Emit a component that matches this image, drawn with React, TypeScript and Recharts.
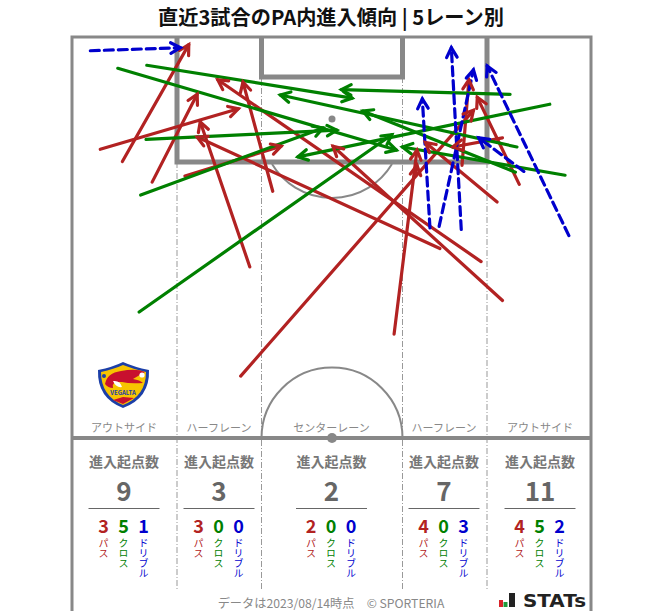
import { LineChart, Line, XAxis, YAxis } from 'recharts';

const FONT = '"Noto Sans CJK JP", "Noto Sans", sans-serif';
const RED = '#b22222';
const GREEN = '#008000';
const BLUE = '#0000cd';
const GRAY = '#888888';

// arrows as [fromX, fromY, toX, toY] in metres, x from left touchline, y from goal line
const passArrows = [
  [6.6, 16.3, 15.3, 1.0],
  [10.5, 19.0, 16.4, 7.5],
  [3.7, 14.7, 21.8, 9.4],
  [14.8, 18.2, 27.4, 14.3],
  [23.3, 30.1, 16.8, 11.1],
  [22.1, 44.4, 52.6, 9.6],
  [26.3, 20.2, 22.4, 5.9],
  [42.2, 38.9, 45.2, 14.8],
  [48.2, 27.7, 16.4, 13.1],
  [53.6, 29.4, 19.1, 5.6],
  [51.1, 16.8, 52.0, 5.6],
  [45.0, 18.1, 45.2, 16.8],
  [56.4, 34.5, 34.2, 14.3],
  [55.7, 21.6, 46.3, 13.8],
  [58.6, 19.3, 53.1, 7.9],
  [56.4, 13.2, 49.9, 14.4],
];
const crossArrows = [
  [9.8, 3.7, 36.7, 8.0],
  [6.0, 4.1, 42.5, 14.8],
  [9.7, 13.4, 34.7, 12.2],
  [9.0, 20.7, 32.9, 11.9],
  [8.8, 36.0, 41.9, 12.8],
  [57.4, 7.5, 35.3, 6.9],
  [62.6, 8.8, 29.6, 15.7],
  [64.6, 18.1, 43.3, 14.4],
  [58.3, 14.4, 27.3, 7.6],
  [58.1, 17.7, 38.1, 9.7],
];
const dribbleArrows = [
  [2.4, 1.8, 14.2, 1.4],
  [46.9, 25.0, 45.9, 8.1],
  [48.1, 24.8, 52.6, 4.3],
  [51.0, 25.2, 49.7, 1.4],
  [65.1, 26.0, 54.4, 3.8],
  [59.2, 17.6, 53.3, 13.2],
];

const laneNames = ['アウトサイド', 'ハーフレーン', 'センターレーン', 'ハーフレーン', 'アウトサイド'];
const laneTotals = [9, 3, 2, 7, 11];
const lanePasses = [3, 3, 2, 4, 4];
const laneCrosses = [5, 0, 0, 0, 5];
const laneDribbles = [1, 0, 0, 3, 2];
const laneCenters = [124, 219, 331.5, 444, 540];

const toRows = (a: number[]) => {
  const angle = Math.atan2(a[3] - a[1], a[2] - a[0]);
  return [
    { x: a[0], y: a[1], angle },
    { x: a[2], y: a[3], angle },
  ];
};

function arrowHead(color: string) {
  return (props: any) => {
    const { cx, cy, index, payload } = props;
    if (index !== 1) return <g key={index} />;
    const len = 11;
    const p = (off: number) =>
      `${cx - len * Math.cos(payload.angle + off)},${cy - len * Math.sin(payload.angle + off)}`;
    return (
      <polyline
        key={index}
        points={`${p(0.5)} ${cx},${cy} ${p(-0.5)}`}
        fill="none"
        stroke={color}
        strokeWidth={3.2}
        strokeLinecap="round"
      />
    );
  };
}

function renderArrows(arrows: number[][], color: string, name: string, dash?: string) {
  return arrows.map((a, i) => (
    <Line
      key={name + i}
      data={toRows(a)}
      dataKey="y"
      type="linear"
      stroke={color}
      strokeWidth={3.2}
      strokeLinecap="round"
      strokeDasharray={dash}
      dot={arrowHead(color)}
      activeDot={false}
      legendType="none"
      isAnimationActive={false}
    />
  ));
}

function Crest() {
  return (
    <g>
      <path d="M98 370 Q113 367 123 362 Q134 367 149 370 Q150 398 123 408 Q97 398 98 370 Z" fill="#1c3fa8" />
      <path d="M101 372 Q114 369 123 365 Q133 369 146 372 Q146 396 123 405 Q101 396 101 372 Z" fill="#f7c400" />
      <path d="M105 384 Q107 373 121 371 Q136 368 145 372 Q138 376 133 379 Q140 380 143 383 Q130 384 122 382 Q111 381 113 388 Q108 388 105 384 Z" fill="#c8102e" />
      <path d="M113 381 Q120 380 122 387 Q116 388 113 381 Z" fill="#ffffff" />
      <circle cx={142} cy={375} r={2.6} fill="#ffffff" />
      <circle cx={104} cy={376} r={2} fill="#1c3fa8" />
      <text x={123} y={395} textAnchor="middle" fontSize={6} fontWeight={700} fill="#1c3fa8" fontFamily={FONT}>VEGALTA</text>
      <path d="M113 400 L123 397 L134 398 L123 404 Z" fill="#c8102e" />
    </g>
  );
}

function Pitch() {
  const lanes = [177, 261.5, 402.5, 487];
  return (
    <svg width={663} height={611} style={{ position: 'absolute', left: 0, top: 0 }} fontFamily={FONT}>
      <text x={331} y={25} textAnchor="middle" fontSize={20.2} fontWeight={700} fill="#111">
        直近3試合のPA内進入傾向 | 5レーン別
      </text>
      {/* lane separators */}
      {lanes.map((x, i) => (
        <line key={i} x1={x} x2={x} y1={i === 0 || i === 3 ? 162 : 77} y2={591} stroke="#999" strokeWidth={1} strokeDasharray="6 2 1 2" />
      ))}
      <path d="M72 611 V37 H591 V611" fill="none" stroke={GRAY} strokeWidth={3} />
      <path d="M177 37 V162 H487 V37" fill="none" stroke={GRAY} strokeWidth={5} />
      <path d="M261.5 37 V77 H402.5 V37" fill="none" stroke={GRAY} strokeWidth={5} />
      <path d="M272 164 A70 70 0 0 0 392 164" fill="none" stroke={GRAY} strokeWidth={2} />
      <path d="M261.5 438 A70.5 70.5 0 0 1 402.5 438" fill="none" stroke={GRAY} strokeWidth={2} />
      <line x1={72} x2={591} y1={438} y2={438} stroke={GRAY} strokeWidth={4} />
      <circle cx={332} cy={119} r={3.5} fill={GRAY} />
      <circle cx={332} cy={438} r={5} fill={GRAY} />
      <Crest />

      {laneNames.map((name, i) => {
        const cx = laneCenters[i];
        const cols = [
          { v: lanePasses[i], label: 'パス', color: RED, dx: -20.5 },
          { v: laneCrosses[i], label: 'クロス', color: GREEN, dx: -0.5 },
          { v: laneDribbles[i], label: 'ドリブル', color: BLUE, dx: 19.5 },
        ];
        return (
          <g key={i}>
            <text x={cx} y={432} textAnchor="middle" fontSize={11} fill={GRAY}>{name}</text>
            <text x={cx} y={467} textAnchor="middle" fontSize={14} fontWeight={700} fill="#777">進入起点数</text>
            <text x={cx} y={501} textAnchor="middle" fontSize={26} fontWeight={700} fill="#666">{laneTotals[i]}</text>
            <line x1={cx - 35.5} x2={cx + 35.5} y1={508.5} y2={508.5} stroke="#666" strokeWidth={1} />
            {cols.map((c) => (
              <g key={c.label}>
                <text x={cx + c.dx} y={533} textAnchor="middle" fontSize={18} fontWeight={700} fill={c.color}>{c.v}</text>
                <text x={cx + c.dx} y={538} fontSize={10} fill={c.color} style={{ writingMode: 'vertical-rl' }}>{c.label}</text>
              </g>
            ))}
          </g>
        );
      })}

      <text x={331} y={607.5} textAnchor="middle" fontSize={12.2} fill={GRAY}>データは2023/08/14時点　© SPORTERIA</text>
      <rect x={499} y={600} width={4} height={7} fill="#d8232a" />
      <rect x={503.5} y={602} width={4} height={5} fill="#1f9a3a" />
      <rect x={509} y={593} width={6} height={14} fill="#222" />
      <text x={523} y={607} fontSize={18} fontWeight={700} fill="#222" fontFamily='"DejaVu Sans", sans-serif' textLength={63} lengthAdjust="spacingAndGlyphs">STATs</text>
    </svg>
  );
}

export default function App() {
  return (
    <div style={{ position: 'absolute', left: 0, top: 0, width: 663, height: 611, overflow: 'hidden', background: '#fff' }}>
      <Pitch />
      <div style={{ position: 'absolute', left: 0, top: 0 }}>
        <LineChart width={663} height={611} margin={{ top: 37, right: 72, bottom: 173, left: 72 }}>
          <XAxis type="number" dataKey="x" domain={[0, 68]} hide />
          <YAxis type="number" dataKey="y" domain={[0, 52.5]} reversed hide />
          {renderArrows(passArrows, RED, 'pass')}
          {renderArrows(crossArrows, GREEN, 'cross')}
          {renderArrows(dribbleArrows, BLUE, 'dribble', '9 5')}
        </LineChart>
      </div>
    </div>
  );
}
